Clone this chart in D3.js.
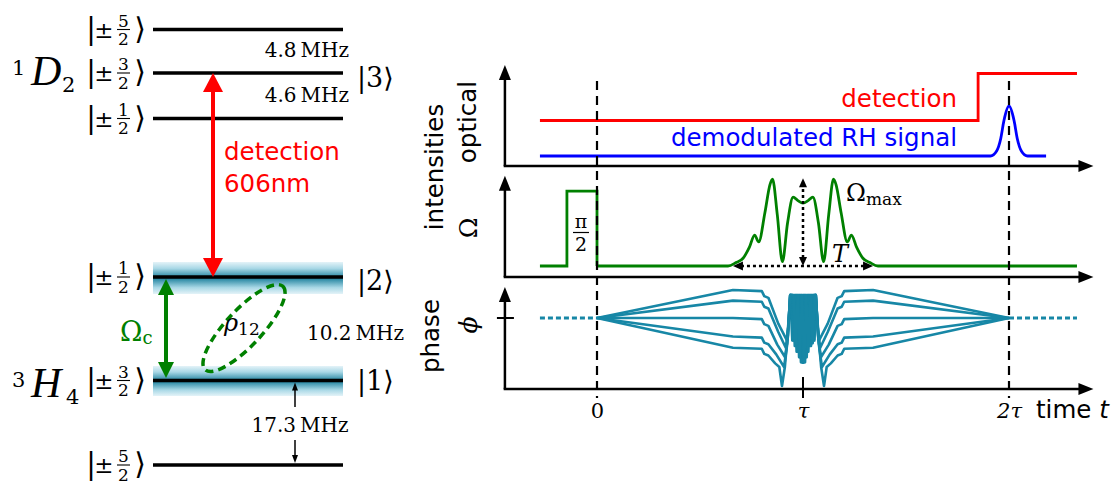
<!DOCTYPE html>
<html><head><meta charset="utf-8">
<script src="https://cdn.jsdelivr.net/npm/d3@7"></script>
<style>body{margin:0;background:#fff}svg{display:block}</style>
</head><body>
<svg id="c" width="1119" height="486"></svg>
<script>
// ---------------- DATA ----------------
const timeTicks = [0, 1, 2];
const timeTickLabels = ["0", "τ", "2τ"];
// optical intensities
const detectionT = [-0.277, 1.85, 1.85, 2.33];
const detectionI = [0.71, 0.71, 1.65, 1.65];
const rhT = [-0.277, 1.91, 1.94, 1.96, 1.975, 2.0, 2.025, 2.04, 2.06, 2.09, 2.18];
const rhI = [0, 0, 0.1, 0.35, 0.7, 1.0, 0.7, 0.35, 0.1, 0, 0];
// Rabi frequency
const piPulseT = [-0.277, -0.146, -0.146, 0, 0];
const piPulseO = [0, 0, 0.87, 0.87, 0];
const shapedT = [0, 0.636, 0.675, 0.709, 0.74, 0.765, 0.785, 0.815, 0.84, 0.852, 0.875, 0.90, 0.925, 0.952, 0.975, 1.0,
  1.025, 1.048, 1.075, 1.10, 1.125, 1.148, 1.16, 1.185, 1.215, 1.235, 1.26, 1.291, 1.325, 1.364, 2.33];
const shapedO = [0, 0, 0.04, 0.09, 0.22, 0.36, 0.28, 0.62, 0.95, 1.01, 0.6, 0.05, 0.5, 0.80, 0.76, 0.73,
  0.76, 0.80, 0.5, 0.05, 0.6, 1.01, 0.95, 0.62, 0.28, 0.36, 0.22, 0.09, 0.04, 0, 0];
// phase trajectories for different detunings [t, phi]
const phase0 = [[0,0],[0.66,1.0],[0.80,0.96],[0.812,0.78],[0.832,0.72],[0.88,-0.2],[0.922,-0.8],[0.931,0.0],
  [0.938,0.82],[0.948,-0.8],[0.959,0.82],[0.969,-1.2],[0.979,0.82],[0.990,-1.58],[1.0,0.82],[1.010,-1.58],[1.021,0.82],[1.031,-1.0],[1.041,0.82],[1.052,-0.8],[1.062,0.82],
  [1.069,0.0],[1.078,-0.8],[1.12,-0.2],[1.168,0.72],[1.188,0.78],[1.20,0.96],[1.34,1.0],[2,0]];
const phase1 = [[0,0],[0.66,0.62],[0.80,0.58],[0.812,0.40],[0.832,0.34],[0.88,-0.5],[0.917,-1.07],[0.929,-0.3],
  [0.938,0.82],[0.942,0.82],[0.952,-0.8],[0.963,0.82],[0.973,-1.2],[0.983,0.82],[0.994,-1.58],[1.004,0.82],[1.014,-1.4],[1.025,0.82],[1.035,-1.0],[1.045,0.82],[1.056,-0.8],[1.062,0.82],
  [1.071,-0.3],[1.083,-1.07],[1.12,-0.5],[1.168,0.34],[1.188,0.40],[1.20,0.58],[1.34,0.62],[2,0]];
const phase2 = [[0,0],[0.66,0],[0.80,-0.04],[0.812,-0.22],[0.832,-0.28],[0.875,-0.95],[0.913,-1.4],[0.928,-0.6],
  [0.938,0.82],[0.946,0.82],[0.956,-0.8],[0.967,0.82],[0.977,-1.2],[0.987,0.82],[0.998,-1.6],[1.008,0.82],[1.018,-1.4],[1.029,0.82],[1.039,-1.0],[1.049,0.82],[1.062,0.82],
  [1.072,-0.6],[1.087,-1.4],[1.125,-0.95],[1.168,-0.28],[1.188,-0.22],[1.20,-0.04],[1.34,0],[2,0]];
const phase3 = [[0,0],[0.66,-0.66],[0.80,-0.70],[0.812,-0.88],[0.832,-0.94],[0.87,-1.3],[0.908,-1.75],[0.924,-0.9],
  [0.938,0.82],[0.950,0.82],[0.960,-1.0],[0.971,0.82],[0.981,-1.4],[0.991,0.82],[1.002,-1.6],[1.012,0.82],[1.022,-1.2],[1.033,0.82],[1.043,-0.9],[1.053,0.82],[1.062,0.82],
  [1.076,-0.9],[1.092,-1.75],[1.13,-1.3],[1.168,-0.94],[1.188,-0.88],[1.20,-0.70],[1.34,-0.66],[2,0]];
const phase4 = [[0,0],[0.66,-1.06],[0.80,-1.10],[0.812,-1.28],[0.832,-1.34],[0.865,-1.62],[0.885,-1.75],[0.898,-2.43],[0.912,-1.75],[0.928,-0.4],
  [0.938,0.82],[0.954,0.82],[0.964,-1.0],[0.975,0.82],[0.985,-1.4],[0.995,0.82],[1.006,-1.58],[1.016,0.82],[1.026,-1.2],[1.037,0.82],[1.047,-0.9],[1.057,0.82],[1.062,0.82],
  [1.072,-0.4],[1.088,-1.75],[1.102,-2.43],[1.115,-1.75],[1.135,-1.62],[1.168,-1.34],[1.188,-1.28],[1.20,-1.10],[1.34,-1.06],[2,0]];
const phaseCurves = [phase0, phase1, phase2, phase3, phase4];
const phaseDotT = [[-0.277, 0], [2, 2.33]];
// level scheme
const d2States = [["5","2"],["3","2"],["1","2"]];
const h4States = [["1","2"],["3","2"],["5","2"]];
const splittings = ["4.8\u2009MHz", "4.6\u2009MHz", "10.2\u2009MHz", "17.3\u2009MHz"];

// ---------------- DRAW ----------------
const svg = d3.select("#c");
const SERIF = "DejaVu Serif", SANS = "DejaVu Sans", TSERIF = "Liberation Serif";
const RED = "#ff0000", GREEN = "#008000", BLUE = "#0000ff", TEAL = "#1787a6";

function head(g, x, y, dir, len, hw, color) {
  let p;
  if (dir === "up") p = [[x, y], [x - hw, y + len], [x + hw, y + len]];
  else if (dir === "down") p = [[x, y], [x - hw, y - len], [x + hw, y - len]];
  else if (dir === "right") p = [[x, y], [x - len, y - hw], [x - len, y + hw]];
  else p = [[x, y], [x + len, y - hw], [x + len, y + hw]];
  g.append("path").attr("d", "M" + p.map(q => q.join(",")).join("L") + "Z").attr("fill", color);
}

// ===== right panel =====
const x = d3.scaleLinear().domain([0, 2]).range([597, 1009]);
const xAxisStart = -0.447, xAxisEnd = 2.41;
const yOpt = d3.scaleLinear().domain([0, 1]).range([156, 106]);
const yOm = d3.scaleLinear().domain([0, 1]).range([266, 180]);
const yPh = d3.scaleLinear().domain([0, 1]).range([318, 290]);

const R = svg.append("g");
function axes(ys, lo, hi) {
  R.append("line").attr("x1", x(xAxisStart)).attr("x2", x(xAxisStart))
    .attr("y1", ys(lo)).attr("y2", ys(hi) + 12).attr("stroke", "#000").attr("stroke-width", 2.5);
  head(R, x(xAxisStart), ys(hi), "up", 15, 6, "#000");
  R.append("line").attr("x1", x(xAxisStart) - 1.25).attr("x2", x(xAxisEnd) - 12)
    .attr("y1", ys(lo)).attr("y2", ys(lo)).attr("stroke", "#000").attr("stroke-width", 2.5);
  head(R, x(xAxisEnd), ys(lo), "right", 15, 6, "#000");
}
axes(yOpt, -0.2, 1.82);
axes(yOm, -0.128, 1.05);
axes(yPh, -2.54, 1.11);

// optical
const lineOpt = d3.line().x(d => x(d[0])).y(d => yOpt(d[1]));
R.append("path").attr("d", lineOpt(detectionT.map((t, i) => [t, detectionI[i]])))
  .attr("fill", "none").attr("stroke", RED).attr("stroke-width", 2.8);
R.append("path").attr("d", d3.line().curve(d3.curveMonotoneX).x(d => x(d[0])).y(d => yOpt(d[1]))(rhT.map((t, i) => [t, rhI[i]])))
  .attr("fill", "none").attr("stroke", BLUE).attr("stroke-width", 2.8);
R.append("text").attr("x", 957).attr("y", 107).attr("text-anchor", "end").attr("font-family", SANS)
  .attr("font-size", 24.5).attr("fill", RED).text("detection");
R.append("text").attr("x", 957).attr("y", 146).attr("text-anchor", "end").attr("font-family", SANS)
  .attr("font-size", 24.5).attr("fill", BLUE).text("demodulated RH signal");

// Rabi
R.append("path").attr("d", d3.line().x(d => x(d[0])).y(d => yOm(d[1]))(piPulseT.map((t, i) => [t, piPulseO[i]])))
  .attr("fill", "none").attr("stroke", GREEN).attr("stroke-width", 2.8);
R.append("path").attr("d", d3.line().curve(d3.curveMonotoneX).x(d => x(d[0])).y(d => yOm(d[1]))(shapedT.map((t, i) => [t, shapedO[i]])))
  .attr("fill", "none").attr("stroke", GREEN).attr("stroke-width", 2.8);

// phase
phaseDotT.forEach(seg => {
  R.append("line").attr("x1", x(seg[0])).attr("x2", x(seg[1])).attr("y1", yPh(0)).attr("y2", yPh(0))
    .attr("stroke", TEAL).attr("stroke-width", 2.8).attr("stroke-dasharray", "5,3");
});
const linePh = d3.line().x(d => x(d[0])).y(d => yPh(d[1]));
phaseCurves.forEach(c => {
  R.append("path").attr("d", linePh(c)).attr("fill", "none").attr("stroke", TEAL)
    .attr("stroke-width", 2.6).attr("stroke-linejoin", "round");
});

// dashed guides at 0 and 2tau
[0, 2].forEach(t => {
  R.append("line").attr("x1", x(t)).attr("x2", x(t)).attr("y1", 81).attr("y2", 398)
    .attr("stroke", "#000").attr("stroke-width", 2.2).attr("stroke-dasharray", "9,6");
});
// tau tick & phi tick
R.append("line").attr("x1", x(1)).attr("x2", x(1)).attr("y1", 377).attr("y2", 398).attr("stroke", "#000").attr("stroke-width", 2);
R.append("line").attr("x1", x(xAxisStart) - 8).attr("x2", x(xAxisStart) + 9).attr("y1", yPh(0)).attr("y2", yPh(0)).attr("stroke", "#000").attr("stroke-width", 2);

// tick labels via axis
const ax = d3.axisBottom(x).tickValues(timeTicks).tickSize(0).tickPadding(0)
  .tickFormat((d, i) => timeTickLabels[i]);
const axG = R.append("g").attr("transform", "translate(0,404)").call(ax);
axG.select(".domain").remove();
axG.selectAll("text").attr("font-family", SERIF).attr("font-size", 21).attr("fill", "#000")
  .attr("dy", 0).attr("y", 14)
  .each(function (d, i) { if (i > 0) d3.select(this).attr("font-style", "italic"); });
const tt = R.append("text").attr("x", 1036).attr("y", 418).attr("font-family", SANS).attr("font-size", 24.5);
tt.append("tspan").text("time ");
tt.append("tspan").attr("font-style", "italic").text("t");

// rotated axis labels
function rot(txt, cx, cy, fam, size, style) {
  const t = R.append("text").attr("transform", `translate(${cx},${cy}) rotate(-90)`)
    .attr("text-anchor", "middle").attr("font-family", fam).attr("font-size", size).text(txt);
  if (style) t.attr("font-style", style);
}
rot("optical", 476, 122, SANS, 24.5);
rot("intensities", 443, 167, SANS, 24.5);
rot("phase", 439, 336, SANS, 24.5);
rot("\u03A9", 477, 228, SERIF, 25);
rot("\u03D5", 477, 325, SERIF, 25, "italic");

// pi/2 label
R.append("text").attr("x", 581).attr("y", 228).attr("text-anchor", "middle").attr("font-family", SERIF).attr("font-size", 19).text("\u03C0");
R.append("line").attr("x1", 573).attr("x2", 589).attr("y1", 232.5).attr("y2", 232.5).attr("stroke", "#000").attr("stroke-width", 1.2);
R.append("text").attr("x", 581).attr("y", 251).attr("text-anchor", "middle").attr("font-family", SERIF).attr("font-size", 19).text("2");

// dotted double arrows (Omega_max, T)
const dot = { stroke: "#000", "stroke-width": 2.5, "stroke-dasharray": "3,3" };
function dline(x1, y1, x2, y2) {
  const l = R.append("line").attr("x1", x1).attr("y1", y1).attr("x2", x2).attr("y2", y2);
  Object.entries(dot).forEach(([k, v]) => l.attr(k, v));
}
dline(x(1), yOm(0) - 8, x(1), yOm(1) + 9);
head(R, x(1), yOm(1.01) - 1, "up", 9, 4, "#000");
head(R, x(1), yOm(0), "down", 9, 4, "#000");
dline(x(0.66) + 8, yOm(0), x(1.34) - 8, yOm(0));
head(R, x(0.66), yOm(0), "left", 10, 4.5, "#000");
head(R, x(1.34), yOm(0), "right", 10, 4.5, "#000");
const om = R.append("text").attr("x", 846).attr("y", 201).attr("font-family", SERIF).attr("font-size", 24);
om.append("tspan").text("\u03A9");
om.append("tspan").attr("font-size", 17).attr("dy", 4).text("max");
R.append("text").attr("x", 832).attr("y", 262).attr("font-family", SERIF).attr("font-style", "italic").attr("font-size", 24).text("T");

// ===== left panel: level scheme =====
const L = svg.append("g");
const defs = svg.append("defs");
const gr = defs.append("linearGradient").attr("id", "band").attr("x1", 0).attr("x2", 0).attr("y1", 0).attr("y2", 1);
[[0, "#e4f3f8"], [0.2, "#a9d8e6"], [0.5, "#1b7f9c"], [0.8, "#a9d8e6"], [1, "#e4f3f8"]]
  .forEach(s => gr.append("stop").attr("offset", s[0]).attr("stop-color", s[1]));
const LX1 = 153, LX2 = 343;
const levelYs = { d52: 29.5, d32: 73, d12: 118.5, h12: 277, h32: 380.5, h52: 465 };

// bands
L.append("rect").attr("x", LX1).attr("y", 262).attr("width", LX2 - LX1).attr("height", 32).attr("fill", "url(#band)");
L.append("rect").attr("x", LX1).attr("y", 366).attr("width", LX2 - LX1).attr("height", 30).attr("fill", "url(#band)");
Object.values(levelYs).forEach(y => {
  L.append("line").attr("x1", LX1).attr("x2", LX2).attr("y1", y).attr("y2", y).attr("stroke", "#000").attr("stroke-width", 3.5);
});

function ket(y, num, den) {
  L.append("text").attr("x", 91).attr("y", y + 9).attr("text-anchor", "middle").attr("font-family", SERIF).attr("font-size", 30).text("|");
  L.append("text").attr("x", 104).attr("y", y + 8).attr("text-anchor", "middle").attr("font-family", SERIF).attr("font-size", 23).text("\u00B1");
  L.append("text").attr("x", 123.5).attr("y", y - 3).attr("text-anchor", "middle").attr("font-family", SERIF).attr("font-size", 17).text(num);
  L.append("line").attr("x1", 117).attr("x2", 130).attr("y1", y).attr("y2", y).attr("stroke", "#000").attr("stroke-width", 1.1);
  L.append("text").attr("x", 123.5).attr("y", y + 15.5).attr("text-anchor", "middle").attr("font-family", SERIF).attr("font-size", 17).text(den);
  L.append("text").attr("x", 140).attr("y", y + 9).attr("text-anchor", "middle").attr("font-family", SERIF).attr("font-size", 30).text("\u27E9");
}
[levelYs.d52, levelYs.d32, levelYs.d12].forEach((y, i) => ket(y, d2States[i][0], d2States[i][1]));
[levelYs.h12, levelYs.h32, levelYs.h52].forEach((y, i) => ket(y, h4States[i][0], h4States[i][1]));

function bigKet(y, n) {
  L.append("text").attr("x", 357).attr("y", y).attr("font-family", SERIF).attr("font-size", 27).text("|" + n + "\u27E9");
}
bigKet(87, "3"); bigKet(290, "2"); bigKet(390, "1");

// term symbols
function term(y, letter, sup, sub, subX) {
  L.append("text").attr("x", 12).attr("y", y - 10).attr("font-family", SERIF).attr("font-size", 21).text(sup);
  L.append("text").attr("x", 31).attr("y", y).attr("font-family", TSERIF).attr("font-style", "italic")
    .attr("font-size", 42).text(letter);
  L.append("text").attr("x", subX).attr("y", y + 7).attr("font-family", SERIF).attr("font-size", 21).text(sub);
}
term(85, "D", "1", "2", 62);
term(397, "H", "3", "4", 66);

// splittings
const sp = (txt, xx, y, anchor) => L.append("text").attr("x", xx).attr("y", y).attr("text-anchor", anchor)
  .attr("font-family", SERIF).attr("font-size", 20).text(txt);
sp(splittings[0], 349, 57, "end");
sp(splittings[1], 349, 102, "end");
sp(splittings[2], 307, 340, "start");
sp(splittings[3], 300, 432, "middle");
// small splitting arrows
L.append("line").attr("x1", 295).attr("x2", 295).attr("y1", 407).attr("y2", 388).attr("stroke", "#000").attr("stroke-width", 1.5);
head(L, 295, 382.5, "up", 8, 3, "#000");
L.append("line").attr("x1", 295).attr("x2", 295).attr("y1", 440).attr("y2", 457).attr("stroke", "#000").attr("stroke-width", 1.5);
head(L, 295, 463, "down", 8, 3, "#000");

// detection arrow (red)
L.append("line").attr("x1", 213).attr("x2", 213).attr("y1", 88).attr("y2", 262).attr("stroke", RED).attr("stroke-width", 4);
head(L, 213, 73, "up", 19, 10, RED);
head(L, 213, 277, "down", 19, 10, RED);
L.append("text").attr("x", 224).attr("y", 160).attr("font-family", SANS).attr("font-size", 24.5).attr("fill", RED).text("detection");
L.append("text").attr("x", 224).attr("y", 192).attr("font-family", SANS).attr("font-size", 24.5).attr("fill", RED).text("606nm");

// coupling arrow (green)
L.append("line").attr("x1", 166).attr("x2", 166).attr("y1", 292).attr("y2", 364).attr("stroke", GREEN).attr("stroke-width", 4);
head(L, 166, 279, "up", 16, 8, GREEN);
head(L, 166, 378, "down", 16, 8, GREEN);
const oc = L.append("text").attr("x", 120).attr("y", 341).attr("font-family", SERIF).attr("font-size", 27).attr("fill", GREEN);
oc.append("tspan").text("\u03A9");
oc.append("tspan").attr("font-size", 18).attr("dy", 3).text("c");

// coherence ellipse
L.append("ellipse").attr("cx", 244).attr("cy", 328).attr("rx", 57).attr("ry", 18)
  .attr("transform", "rotate(-47,244,328)").attr("fill", "none").attr("stroke", GREEN)
  .attr("stroke-width", 3.5).attr("stroke-dasharray", "8,5");
const rho = L.append("text").attr("x", 224).attr("y", 331).attr("font-family", SERIF).attr("font-size", 24);
rho.append("tspan").attr("font-style", "italic").text("\u03C1");
rho.append("tspan").attr("font-size", 17).attr("dy", 4).text("12");
</script>
</body></html>
